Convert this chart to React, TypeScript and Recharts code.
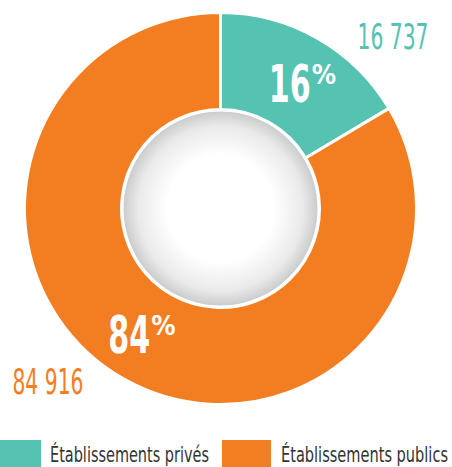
import { PieChart, Pie, Cell, Legend } from "recharts";

const categories = ["Établissements privés", "Établissements publics"];
const values = [16737, 84916];
const colors = ["#55C2B2", "#F37E22"];

const data = categories.map((name, i) => ({ name, value: values[i] }));
const centerData = [{ name: "centre", value: 1 }];

const RADIAN = Math.PI / 180;
const FONT = "'Liberation Sans Narrow', 'DejaVu Sans Condensed', 'Roboto', sans-serif";

const fmt = (v: number) => String(v).replace(/\B(?=(\d{3})+(?!\d))/g, " ");

const renderLabel = (props: any) => {
  const { cx, cy, midAngle, percent, index, value } = props;
  // pourcentage dans l'anneau
  const a = (midAngle - 3) * RADIAN;
  const px = cx + 149 * Math.cos(a);
  const py = cy - 149 * Math.sin(a);
  // valeur absolue en diagonale, hors du cercle
  const diag = Math.round((midAngle - 45) / 180) * 180 + 45;
  const vx = cx + 244 * Math.cos(diag * RADIAN);
  const vy = cy - 244 * Math.sin(diag * RADIAN);
  return (
    <g>
      <text x={px - 32} y={py + 19} fill="#fff" fontFamily={FONT} fontWeight="bold">
        <tspan fontSize={51} textLength={42} lengthAdjust="spacingAndGlyphs">
          {Math.round(percent * 100)}
        </tspan>
        <tspan fontSize={27} dx={1} dy={-18}>
          %
        </tspan>
      </text>
      <text
        x={vx}
        y={vy + 13}
        textAnchor="middle"
        fill={colors[index]}
        fontFamily={FONT}
        fontSize={35}
        textLength={71}
        lengthAdjust="spacingAndGlyphs"
      >
        {fmt(value)}
      </text>
    </g>
  );
};

const renderLegend = () => {
  const boxX = [0, 229];
  const boxW = [48, 49];
  const textX = [57, 288];
  const textW = [159, 167];
  return (
    <svg width={460} height={30} style={{ display: "block" }}>
      {categories.map((name, i) => (
        <g key={name}>
          <rect x={boxX[i]} y={3} width={boxW[i]} height={27} fill={colors[i]} />
          <text
            x={textX[i]}
            y={25}
            fill="#333"
            fontFamily={FONT}
            fontSize={21}
            textLength={textW[i]}
            lengthAdjust="spacingAndGlyphs"
          >
            {name}
          </text>
        </g>
      ))}
    </svg>
  );
};

export default function App() {
  return (
    <div style={{ position: "absolute", left: 0, top: 0, background: "#fff" }}>
      <style>{"body{margin:0}"}</style>
      <PieChart width={452} height={467} margin={{ top: 0, right: 0, bottom: 0, left: 0 }}>
        <defs>
          <radialGradient id="centre" cx="50%" cy="50%" r="50%">
            <stop offset="0%" stopColor="#ffffff" />
            <stop offset="55%" stopColor="#ffffff" />
            <stop offset="85%" stopColor="#eaeaea" />
            <stop offset="100%" stopColor="#cbcccd" />
          </radialGradient>
        </defs>
        <Pie
          data={centerData}
          dataKey="value"
          cx={220.5}
          cy={208.5}
          innerRadius={0}
          outerRadius={97}
          fill="url(#centre)"
          stroke="none"
          isAnimationActive={false}
          legendType="none"
        />
        <Pie
          data={data}
          dataKey="value"
          nameKey="name"
          cx={220.5}
          cy={208.5}
          innerRadius={99}
          outerRadius={196}
          startAngle={90}
          endAngle={-270}
          stroke="#fff"
          strokeWidth={3}
          label={renderLabel}
          labelLine={false}
          isAnimationActive={false}
        >
          {data.map((d, i) => (
            <Cell key={d.name} fill={colors[i]} />
          ))}
        </Pie>
        <Legend
          verticalAlign="bottom"
          content={renderLegend}
          wrapperStyle={{ left: -7, bottom: 0, width: 460, height: 30 }}
        />
      </PieChart>
    </div>
  );
}
